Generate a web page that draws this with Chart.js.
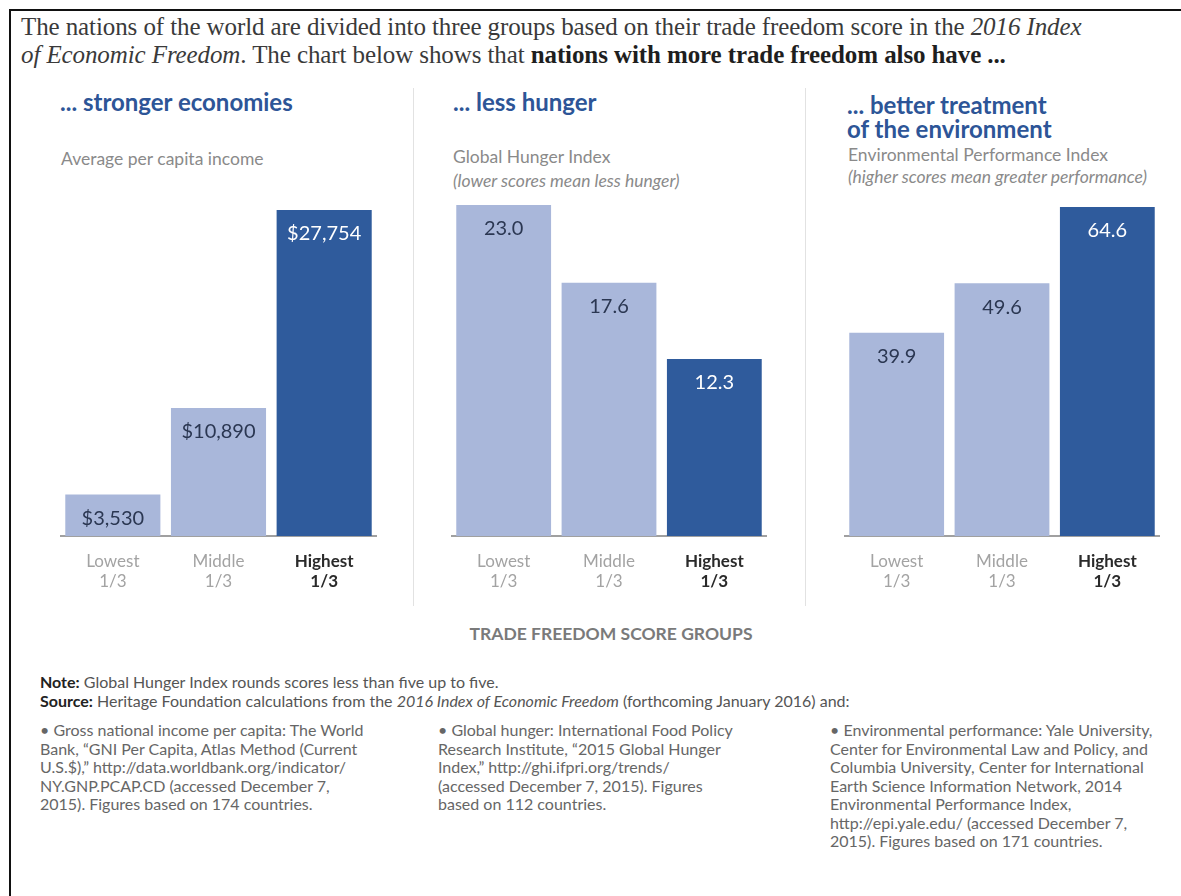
<!DOCTYPE html>
<html>
<head>
<meta charset="utf-8">
<script src="https://cdn.jsdelivr.net/npm/chart.js@4.4.1/dist/chart.umd.min.js"></script>
<style>
  body { margin: 0; background: #fff; }
  #page { position: relative; width: 1181px; height: 896px; overflow: hidden; font-family: Lato, "Open Sans", sans-serif; }
  .frameTop { position: absolute; left: 9px; top: 9px; width: 1172px; height: 2px; background: #111; }
  .frameLeft { position: absolute; left: 9px; top: 9px; width: 2px; height: 887px; background: #111; }
  .divider { position: absolute; top: 88px; width: 1px; height: 518px; background: #e2e2e2; }
  .intro { position: absolute; left: 21px; font-family: "Liberation Serif", serif; font-size: 25px; line-height: 28px; color: #3a3a3a; white-space: nowrap; letter-spacing: -0.1px; }
  .intro b { color: #1e1e1e; }
  .ptitle { position: absolute; font-weight: bold; font-size: 24px; color: #2d5597; line-height: 24px; }
  .psub { position: absolute; font-size: 17.5px; color: #8a8a8a; white-space: nowrap; }
  .psub i { font-style: italic; }
  .chartBox { position: absolute; }
  .axisTitle { position: absolute; left: 0; width: 1222px; top: 623px; text-align: center; font-size: 17.5px; font-weight: bold; color: #7a7a7a; }
  .note { position: absolute; left: 40px; font-size: 16px; color: #555; white-space: nowrap; }
  .note b { color: #222; }
  .col { position: absolute; top: 721px; font-size: 16px; line-height: 18.5px; color: #666; white-space: nowrap; }
</style>
</head>
<body>
<div id="page">
  <div class="frameTop"></div>
  <div class="frameLeft"></div>

  <div class="intro" style="top:13px">The nations of the world are divided into three groups based on their trade freedom score in the <i>2016 Index</i></div>
  <div class="intro" style="top:41px"><i>of Economic Freedom</i>. The chart below shows that <b>nations with more trade freedom also have ...</b></div>

  <div class="divider" style="left:413px"></div>
  <div class="divider" style="left:805px"></div>

  <div class="ptitle" style="left:60px; top:90px">... stronger economies</div>
  <div class="psub" style="left:61px; top:148px">Average per capita income</div>

  <div class="ptitle" style="left:453px; top:90px">... less hunger</div>
  <div class="psub" style="left:453px; top:145px; line-height:24px">Global Hunger Index<br><i>(lower scores mean less hunger)</i></div>

  <div class="ptitle" style="left:847px; top:93px">... better treatment<br>of the environment</div>
  <div class="psub" style="left:848px; top:144px; line-height:22px">Environmental Performance Index<br><i>(higher scores mean greater performance)</i></div>

  <div class="chartBox" style="left:60px; top:190px; width:317px; height:417px"><canvas id="incomeChart"></canvas></div>
  <div class="chartBox" style="left:451px; top:190px; width:316px; height:417px"><canvas id="hungerChart"></canvas></div>
  <div class="chartBox" style="left:844px; top:190px; width:316px; height:417px"><canvas id="envChart"></canvas></div>

  <div class="axisTitle">TRADE FREEDOM SCORE GROUPS</div>

  <div class="note" style="top:672px"><b>Note:</b> Global Hunger Index rounds scores less than five up to five.</div>
  <div class="note" style="top:691px"><b>Source:</b> Heritage Foundation calculations from the <i>2016 Index of Economic Freedom</i> (forthcoming January 2016) and:</div>

  <div class="col" style="left:40px">• Gross national income per capita: The World<br>Bank, “GNI Per Capita, Atlas Method (Current<br>U.S.$),” http://data.worldbank.org/indicator/<br>NY.GNP.PCAP.CD (accessed December 7,<br>2015). Figures based on 174 countries.</div>
  <div class="col" style="left:438px">• Global hunger: International Food Policy<br>Research Institute, “2015 Global Hunger<br>Index,” http://ghi.ifpri.org/trends/<br>(accessed December 7, 2015). Figures<br>based on 112 countries.</div>
  <div class="col" style="left:830px">• Environmental performance: Yale University,<br>Center for Environmental Law and Policy, and<br>Columbia University, Center for International<br>Earth Science Information Network, 2014<br>Environmental Performance Index,<br>http://epi.yale.edu/ (accessed December 7,<br>2015). Figures based on 171 countries.</div>
</div>

<script>
// trade freedom groups, lowest to highest
const groups = [['Lowest', '1/3'], ['Middle', '1/3'], ['Highest', '1/3']];

// average per capita income (US$)
const incomeValues = [3530, 10890, 27754];
// Global Hunger Index
const hungerValues = [23.0, 17.6, 12.3];
// Environmental Performance Index
const envValues = [39.9, 49.6, 64.6];

const lightBlue = '#a9b7da';
const darkBlue = '#2f5b9c';

// writes the value inside the top of each bar
const barValueLabels = {
    id: 'barValueLabels',
    afterDatasetsDraw(chart, args, opts) {
        const ctx = chart.ctx;
        const meta = chart.getDatasetMeta(0);
        const values = chart.data.datasets[0].data;
        ctx.save();
        ctx.font = '20px Lato, sans-serif';
        ctx.textAlign = 'center';
        ctx.textBaseline = 'middle';
        meta.data.forEach((bar, i) => {
            ctx.fillStyle = i === 2 ? '#ffffff' : '#2b3752';
            ctx.fillText(opts.format(values[i]), bar.x, bar.y + 24);
        });
        ctx.restore();
    }
};

function makeChart(id, values, format, topPad) {
    return new Chart(document.getElementById(id), {
        type: 'bar',
        data: {
            labels: groups,
            datasets: [{
                data: values,
                backgroundColor: [lightBlue, lightBlue, darkBlue],
                barPercentage: 0.9,
                categoryPercentage: 1.0
            }]
        },
        options: {
            responsive: true,
            maintainAspectRatio: false,
            animation: false,
            layout: { padding: { top: topPad, bottom: 0 } },
            plugins: {
                legend: { display: false },
                tooltip: { enabled: false },
                barValueLabels: { format: format }
            },
            scales: {
                y: {
                    display: false,
                    min: 0,
                    max: Math.max(...values)
                },
                x: {
                    grid: { display: false, drawTicks: false },
                    border: { display: true, color: '#a0a0a0', width: 2 },
                    ticks: {
                        padding: 16,
                        color: c => c.index === 2 ? '#2a2a2a' : '#a3a3a3',
                        font: c => ({
                            family: 'Lato, sans-serif',
                            size: 17,
                            weight: c.index === 2 ? 'bold' : 'normal',
                            lineHeight: 1.15
                        })
                    }
                }
            }
        },
        plugins: [barValueLabels]
    });
}

makeChart('incomeChart', incomeValues, v => '$' + v.toLocaleString('en-US'), 20);
makeChart('hungerChart', hungerValues, v => v.toFixed(1), 15);
makeChart('envChart', envValues, v => v.toFixed(1), 17);
</script>
</body>
</html>
